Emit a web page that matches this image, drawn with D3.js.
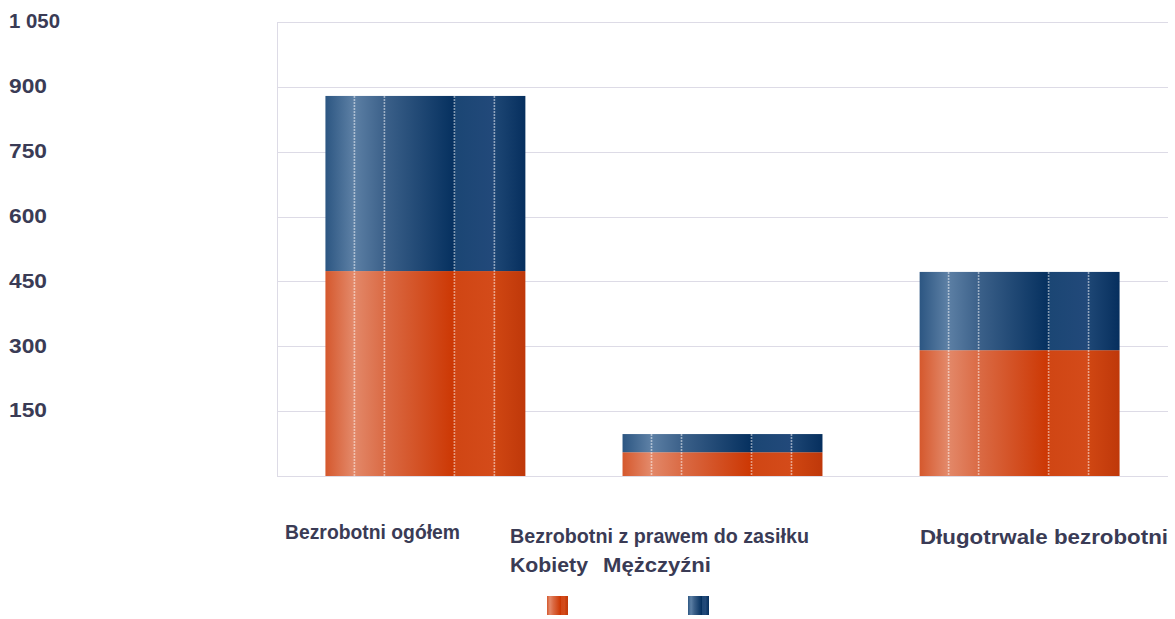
<!DOCTYPE html>
<html><head><meta charset="utf-8">
<script src="https://cdn.jsdelivr.net/npm/d3@7"></script>
<style>body{margin:0;background:#fff}svg{display:block}text{font-family:"Liberation Sans",Arial,sans-serif;font-weight:bold;fill:#3a3b55}</style>
</head><body><svg id="c" width="1175" height="619"></svg>
<script>
const categories = ["Bezrobotni ogółem", "Bezrobotni z prawem do zasiłku", "Długotrwale bezrobotni"];
const seriesNames = ["Kobiety", "Mężczyźni"];
const kobiety = [474, 55, 291];
const mezczyzni = [405, 42, 181];
const yTicks = [150, 300, 450, 600, 750, 900, 1050];
const yTickLabels = ["150", "300", "450", "600", "750", "900", "1 050"];

(function () {
const svg = d3.select("#c");
const pL = 277, pR = 1168, pT = 22, pB = 476;
const x = d3.scaleBand().domain(categories).range([pL, pR]).paddingInner(0.327).paddingOuter(0.163);
const y = d3.scaleLinear().domain([0, 1050]).range([pB, pT]);

const defs = svg.append("defs");
function grad(id, stops) {
  const g = defs.append("linearGradient").attr("id", id).attr("x1", 0).attr("x2", 1).attr("y1", 0).attr("y2", 0);
  stops.forEach(s => g.append("stop").attr("offset", s[0]).attr("stop-color", s[1]));
}
grad("gO", [[0, "#d5582d"], [0.14, "#e3896a"], [0.3, "#da6a44"], [0.645, "#cc3703"], [0.65, "#d04614"], [0.845, "#d44b1a"], [0.85, "#cf4612"], [1, "#bf380a"]]);
grad("gB", [[0, "#2c5682"], [0.14, "#5d80a5"], [0.3, "#3b6089"], [0.645, "#05305f"], [0.65, "#1b4674"], [0.845, "#22497a"], [0.85, "#1d4674"], [1, "#062f5e"]]);
const fills = ["url(#gO)", "url(#gB)"];

const g = svg.append("g");
yTicks.forEach(t => g.append("line").attr("x1", pL).attr("x2", pR).attr("y1", Math.round(y(t)) + 0.5).attr("y2", Math.round(y(t)) + 0.5).attr("stroke", "#dddbe6"));
g.append("line").attr("x1", pL).attr("x2", pR).attr("y1", y(0) + 0.5).attr("y2", y(0) + 0.5).attr("stroke", "#dddbe6");
g.append("line").attr("x1", pL + 0.5).attr("x2", pL + 0.5).attr("y1", pT).attr("y2", pB).attr("stroke", "#dddbe6");

yTicks.forEach((t, i) => svg.append("text").attr("x", 9).attr("y", y(t) - 1).attr("dy", "0.35em").attr("font-size", 21)
  .attr("textLength", yTickLabels[i].length > 3 ? 51 : 38).attr("lengthAdjust", "spacingAndGlyphs").text(yTickLabels[i]));

const data = categories.map((c, i) => ({cat: c, Kobiety: kobiety[i], "Mężczyźni": mezczyzni[i]}));
const stack = d3.stack().keys(seriesNames)(data);
const lineOffsets = [0.145, 0.295, 0.645, 0.845];
stack.forEach((layer, li) => {
  layer.forEach(d => {
    svg.append("rect").attr("x", x(d.data.cat)).attr("width", x.bandwidth())
      .attr("y", y(d[1])).attr("height", y(d[0]) - y(d[1])).attr("fill", fills[li]);
  });
});
data.forEach(d => {
  const tot = d.Kobiety + d["Mężczyźni"];
  lineOffsets.forEach(o => {
    const lx = x(d.cat) + o * x.bandwidth();
    svg.append("line").attr("x1", lx).attr("x2", lx).attr("y1", y(tot)).attr("y2", y(0))
      .attr("stroke", "#ffffff").attr("stroke-opacity", 0.5).attr("stroke-width", 1.6).attr("stroke-dasharray", "2,1");
  });
});

const catPos = [[285, 539, 175], [510, 543, 299], [920, 544, 248]];
categories.forEach((c, i) => svg.append("text").attr("x", catPos[i][0]).attr("y", catPos[i][1]).attr("font-size", 21)
  .attr("textLength", catPos[i][2]).attr("lengthAdjust", "spacingAndGlyphs").text(c));

const legText = [[510, 572, 78], [603, 572, 108]];
const legSw = [547, 688];
seriesNames.forEach((s, i) => {
  svg.append("text").attr("x", legText[i][0]).attr("y", legText[i][1]).attr("font-size", 21)
    .attr("textLength", legText[i][2]).attr("lengthAdjust", "spacingAndGlyphs").text(s);
  svg.append("rect").attr("x", legSw[i]).attr("y", 596).attr("width", 21).attr("height", 19).attr("fill", fills[i]);
});
})();
</script></body></html>
